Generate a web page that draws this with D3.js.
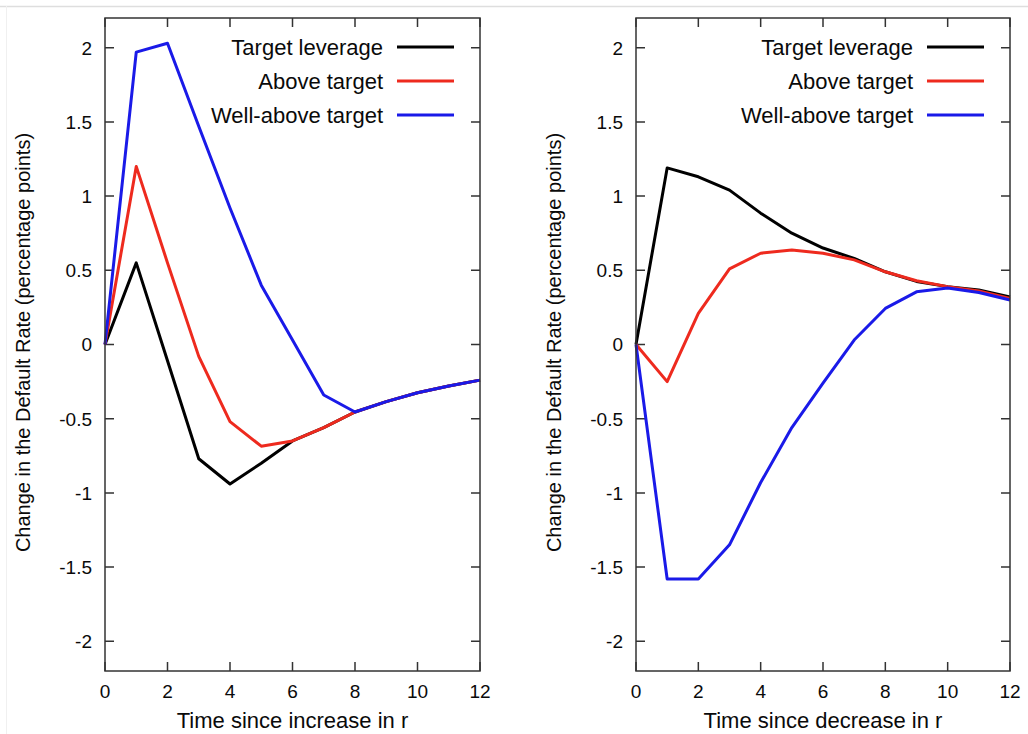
<!DOCTYPE html>
<html>
<head>
<meta charset="utf-8">
<script src="https://cdn.jsdelivr.net/npm/d3@7"></script>
<style>
  body { margin: 0; background: #fff; }
  svg { display: block; font-family: "Liberation Sans", Arial, sans-serif; }
</style>
</head>
<body>
<div id="chart"></div>
<script>
// time steps shared by both panels
const steps = [0, 1, 2, 3, 4, 5, 6, 7, 8, 9, 10, 11, 12];

// response to an increase in r
const incTarget    = [0, 0.55, -0.11, -0.77, -0.94, -0.80, -0.65, -0.56, -0.455, -0.385, -0.325, -0.28, -0.24];
const incAbove     = [0, 1.20, 0.55, -0.08, -0.52, -0.685, -0.65, -0.56, -0.455, -0.385, -0.325, -0.28, -0.24];
const incWellAbove = [0, 1.97, 2.03, 1.47, 0.92, 0.40, 0.03, -0.34, -0.455, -0.385, -0.325, -0.28, -0.24];

// response to a decrease in r
const decTarget    = [0, 1.19, 1.13, 1.04, 0.885, 0.75, 0.65, 0.58, 0.49, 0.425, 0.39, 0.367, 0.32];
const decAbove     = [0, -0.25, 0.21, 0.51, 0.615, 0.637, 0.615, 0.57, 0.49, 0.43, 0.39, 0.36, 0.31];
const decWellAbove = [0, -1.58, -1.58, -1.35, -0.93, -0.56, -0.26, 0.03, 0.243, 0.355, 0.38, 0.35, 0.30];

const seriesNames = ["Target leverage", "Above target", "Well-above target"];
const seriesColors = ["#000000", "#ee2a1e", "#1a1ae8"];

const xTicks = [0, 2, 4, 6, 8, 10, 12];
const yTicks = [-2, -1.5, -1, -0.5, 0, 0.5, 1, 1.5, 2];

const width = 1028, height = 734;
const svg = d3.select("#chart").append("svg").attr("width", width).attr("height", height);

// faint border of the screenshot
svg.append("line").attr("x1", 0).attr("x2", width).attr("y1", 6.5).attr("y2", 6.5)
  .attr("stroke", "#dedede").attr("stroke-width", 1.5);
svg.append("line").attr("x1", 6.5).attr("x2", 6.5).attr("y1", 6).attr("y2", height)
  .attr("stroke", "#f0f0f0").attr("stroke-width", 1);

function drawPanel(left, right, xTitle, series) {
  const top = 18, bottom = 671;
  const x = d3.scaleLinear().domain([0, 12]).range([left, right]);
  const y = d3.scaleLinear().domain([-2.2, 2.2]).range([bottom, top]);
  const g = svg.append("g");
  const tickLen = 9;
  const axisColor = "#333";
  const textColor = "#0a0a0a";

  // ticks, mirrored on all four sides and pointing inwards
  g.selectAll(".xt").data(xTicks).join("path")
    .attr("d", d => `M${x(d)},${bottom}v${-tickLen}M${x(d)},${top}v${tickLen}`)
    .attr("stroke", axisColor).attr("stroke-width", 1.5);
  g.selectAll(".yt").data(yTicks).join("path")
    .attr("d", d => `M${left},${y(d)}h${tickLen}M${right},${y(d)}h${-tickLen}`)
    .attr("stroke", axisColor).attr("stroke-width", 1.5);

  g.selectAll(".xl").data(xTicks).join("text")
    .attr("x", d => x(d)).attr("y", bottom + 27)
    .attr("text-anchor", "middle").attr("font-size", 19).attr("fill", textColor)
    .text(d => d);
  g.selectAll(".yl").data(yTicks).join("text")
    .attr("x", left - 13).attr("y", d => y(d)).attr("dy", "0.36em")
    .attr("text-anchor", "end").attr("font-size", 19).attr("fill", textColor)
    .text(d => d);

  // series lines
  const line = d3.line().x((d, i) => x(steps[i])).y(d => y(d));
  series.forEach((vals, k) => {
    g.append("path").datum(vals).attr("d", line)
      .attr("fill", "none").attr("stroke", seriesColors[k])
      .attr("stroke-width", 3).attr("stroke-linejoin", "round");
  });

  // frame
  g.append("rect").attr("x", left).attr("y", top)
    .attr("width", right - left).attr("height", bottom - top)
    .attr("fill", "none").attr("stroke", axisColor).attr("stroke-width", 1.5);

  // legend
  seriesNames.forEach((name, k) => {
    const ly = top + 29 + k * 34;
    g.append("text").attr("x", right - 97).attr("y", ly).attr("dy", "0.36em")
      .attr("text-anchor", "end").attr("font-size", 22).attr("fill", textColor).text(name);
    g.append("line").attr("x1", right - 83).attr("x2", right - 26)
      .attr("y1", ly).attr("y2", ly)
      .attr("stroke", seriesColors[k]).attr("stroke-width", 3);
  });

  // axis titles
  g.append("text").attr("x", (left + right) / 2).attr("y", bottom + 57)
    .attr("text-anchor", "middle").attr("font-size", 22).attr("fill", textColor).text(xTitle);
  g.append("text")
    .attr("transform", `translate(${left - 75},${(top + bottom) / 2 - 2}) rotate(-90)`)
    .attr("text-anchor", "middle").attr("font-size", 20).attr("fill", textColor)
    .text("Change in the Default Rate (percentage points)");
}

drawPanel(105, 480, "Time since increase in r", [incTarget, incAbove, incWellAbove]);
drawPanel(636, 1010, "Time since decrease in r", [decTarget, decAbove, decWellAbove]);
</script>
</body>
</html>
